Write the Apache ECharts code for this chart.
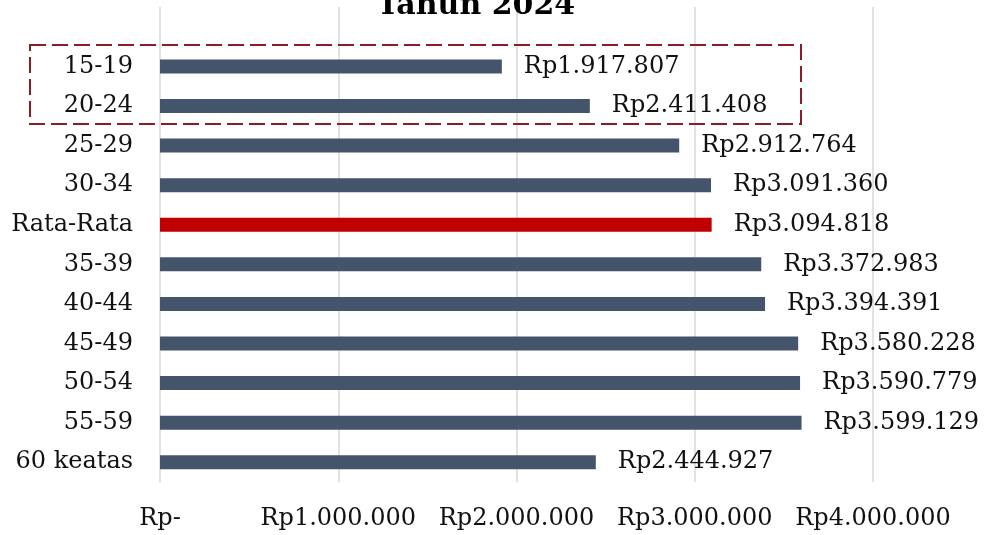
<!DOCTYPE html>
<html>
<head>
<meta charset="utf-8">
<title>Tahun 2024</title>
<script src="https://cdn.jsdelivr.net/npm/echarts@6/dist/echarts.min.js"></script>
<style>
  html, body { margin: 0; padding: 0; background: #fff; }
  #chart { width: 984px; height: 535px; }
</style>
</head>
<body>
<div id="chart"></div>
<script>
// kategori paling atas kosong (ruang di bawah judul, seperti di plot Excel)
var categories = ['', '15-19', '20-24', '25-29', '30-34', 'Rata-Rata', '35-39', '40-44', '45-49', '50-54', '55-59', '60 keatas']
var upah = [null, 1917807, 2411408, 2912764, 3091360, 3094818, 3372983, 3394391, 3580228, 3590779, 3599129, 2444927]
var xTicks = [0, 1000000, 2000000, 3000000, 4000000]

var fontName = 'DejaVu Serif'

function rupiah (v) {
  if (!v) return 'Rp-'
  return 'Rp' + String(v).replace(/\B(?=(\d{3})+(?!\d))/g, '.')
}

var barData = upah.map(function (v, i) {
  return {
    value: v,
    itemStyle: { color: categories[i] === 'Rata-Rata' ? '#C00000' : '#44546A' }
  }
})

var chart = echarts.init(document.getElementById('chart'))
chart.setOption({
  animation: false,
  textStyle: { fontFamily: fontName },
  title: {
    text: 'Tahun 2024',
    left: 471,
    top: -14,
    textAlign: 'center',
    textStyle: { fontFamily: fontName, fontSize: 30, fontWeight: 'bold', color: '#000' }
  },
  grid: { left: 160, right: 111, top: 7, bottom: 53, containLabel: false },
  xAxis: {
    type: 'value',
    min: xTicks[0],
    max: xTicks[xTicks.length - 1],
    interval: 1000000,
    axisLine: { show: false },
    axisTick: { show: false },
    splitLine: { lineStyle: { color: '#d9d9d9', width: 1.5 } },
    axisLabel: {
      margin: 25,
      fontSize: 24,
      color: '#111',
      fontFamily: fontName,
      formatter: rupiah
    }
  },
  yAxis: {
    type: 'category',
    inverse: true,
    data: categories,
    axisLine: { show: false },
    axisTick: { show: false },
    axisLabel: { margin: 27, fontSize: 24, color: '#111', fontFamily: fontName }
  },
  series: [{
    type: 'bar',
    data: barData,
    barWidth: 14,
    label: {
      show: true,
      position: 'right',
      distance: 22,
      fontSize: 24,
      color: '#111',
      fontFamily: fontName,
      formatter: function (p) { return rupiah(p.value) }
    }
  }],
  graphic: [{
    type: 'rect',
    shape: { x: 30, y: 45, width: 771, height: 79 },
    style: { fill: 'none', stroke: '#8B1C24', lineWidth: 2, lineDash: [16, 6] },
    z: 100
  }]
})
</script>
</body>
</html>
